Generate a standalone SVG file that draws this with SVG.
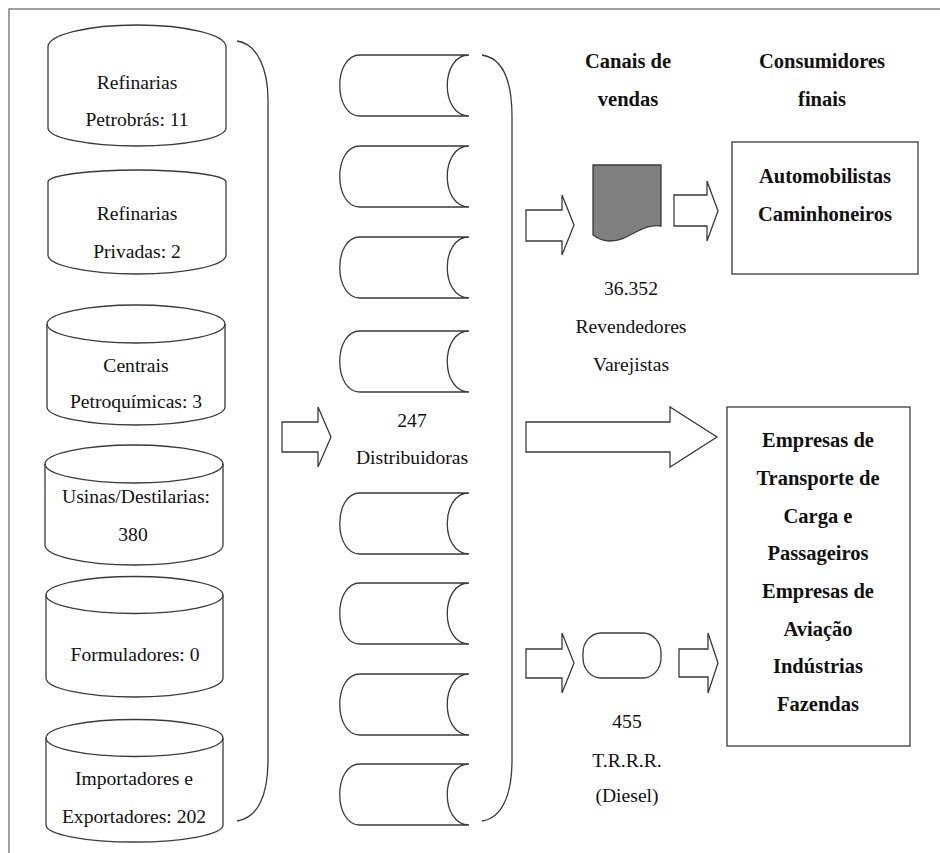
<svg xmlns="http://www.w3.org/2000/svg" width="940" height="853" viewBox="0 0 940 853">
<style>
.s{fill:#fff;stroke:#3a3a3a;stroke-width:1.3}
.o{fill:none;stroke:#3a3a3a;stroke-width:1.3}
text{font-family:'Liberation Serif','DejaVu Serif','Noto Serif',Tinos,Georgia,serif}
.t{font-size:19.6px;fill:#111;text-anchor:middle}
.b{font-size:20.5px;font-weight:bold;fill:#111;text-anchor:middle}
.f{fill:none;stroke:#808080;stroke-width:1.5}
</style>
<rect width="940" height="853" fill="#fff"/>
<path class="f" d="M9,853 V9 H940"/>
<g id="cyl1">
<path class="s" d="M48,47 A89,22 0 0 1 226,47 V128 A89,18 0 0 1 48,128 Z"/>
<text class="t" x="137" y="88.5">Refinarias</text>
<text class="t" x="137" y="126">Petrobrás: 11</text>
</g>
<g id="cyl2">
<path class="s" d="M48,182 A89,12 0 0 1 226,182 V255 A89,19 0 0 1 48,255 Z"/>
<text class="t" x="137" y="220">Refinarias</text>
<text class="t" x="137" y="258">Privadas: 2</text>
</g>
<g id="cyl3">
<path class="s" d="M47,324 A89,19 0 0 1 225,324 V407 A89,18 0 0 1 47,407 Z"/>
<path class="o" d="M47,324 A89,19 0 0 0 225,324"/>
<text class="t" x="136" y="372">Centrais</text>
<text class="t" x="136" y="408">Petroquímicas: 3</text>
</g>
<g id="cyl4">
<path class="s" d="M45,464 A89,19 0 0 1 223,464 V545 A89,20 0 0 1 45,545 Z"/>
<path class="o" d="M45,464 A89,19 0 0 0 223,464"/>
<text class="t" x="136" y="503">Usinas/Destilarias:</text>
<text class="t" x="133" y="541">380</text>
</g>
<g id="cyl5">
<path class="s" d="M46,595 A88.5,18.5 0 0 1 223,595 V678 A88.5,19 0 0 1 46,678 Z"/>
<path class="o" d="M46,595 A88.5,18.5 0 0 0 223,595"/>
<text class="t" x="135" y="661">Formuladores: 0</text>
</g>
<g id="cyl6">
<path class="s" d="M46,738 A88.5,18.5 0 0 1 223,738 V825 A88.5,17 0 0 1 46,825 Z"/>
<path class="o" d="M46,738 A88.5,18.5 0 0 0 223,738"/>
<text class="t" x="134" y="785">Importadores e</text>
<text class="t" x="134" y="823">Exportadores: 202</text>
</g>

<defs>
<path id="sd" d="M469,0 H360 C333,0 333,61 360,61 H469 C440,61 440,0 469,0 Z"/>
</defs>
<g id="distribuidoras">
<use href="#sd" class="s" y="55"/>
<use href="#sd" class="s" y="146"/>
<use href="#sd" class="s" y="237"/>
<use href="#sd" class="s" y="331"/>
<use href="#sd" class="s" y="493"/>
<use href="#sd" class="s" y="583"/>
<use href="#sd" class="s" y="674"/>
<use href="#sd" class="s" y="764"/>
<text class="t" x="412" y="427">247</text>
<text class="t" x="412" y="464">Distribuidoras</text>
</g>

<g id="headers">
<text class="b" x="628" y="68">Canais de</text>
<text class="b" x="628" y="106">vendas</text>
<text class="b" x="822" y="68">Consumidores</text>
<text class="b" x="822" y="106">finais</text>
</g>

<g id="revendedores">
<path d="M593,165 H661 V226 C640,223 630,241 610,241 C602,241 597,238 593,235 Z" fill="#808080" stroke="#3a3a3a" stroke-width="1.3"/>
<text class="t" x="631" y="295">36.352</text>
<text class="t" x="631" y="333">Revendedores</text>
<text class="t" x="631" y="371">Varejistas</text>
</g>

<g id="trrr">
<rect class="s" x="583" y="633" width="78" height="45" rx="18" ry="20"/>
<text class="t" x="627" y="728">455</text>
<text class="t" x="627" y="767">T.R.R.R.</text>
<text class="t" x="627" y="802">(Diesel)</text>
</g>

<g id="automobilistas">
<rect class="s" x="732" y="142" width="186" height="132"/>
<text class="b" x="825" y="183">Automobilistas</text>
<text class="b" x="825" y="221">Caminhoneiros</text>
</g>

<g id="empresas">
<rect class="s" x="727" y="407" width="183" height="339"/>
<text class="b" x="818" y="447">Empresas de</text>
<text class="b" x="818" y="485">Transporte de</text>
<text class="b" x="818" y="523">Carga e</text>
<text class="b" x="818" y="560">Passageiros</text>
<text class="b" x="818" y="598">Empresas de</text>
<text class="b" x="818" y="636">Aviação</text>
<text class="b" x="818" y="673">Indústrias</text>
<text class="b" x="818" y="711">Fazendas</text>
</g>

<g id="connectors">
<path class="o" d="M237,41 C258,44 268,70 268,100 V760 C268,795 258,818 237,821"/>
<path class="o" d="M482,55 C502,58 512,80 512,117 V760 C512,795 502,818 482,821"/>
<polygon class="s" points="282,422 318,422 318,407 331,437 318,467 318,452 282,452"/>
<polygon class="s" points="526,210 562,210 562,195 574,225 562,255 562,241 526,241"/>
<polygon class="s" points="674,195 707,195 707,181 718,211 707,241 707,226 674,226"/>
<polygon class="s" points="526,422 670,422 670,407 717,437 670,467 670,452 526,452"/>
<polygon class="s" points="526,649 562,649 562,633 574,663 562,693 562,678 526,678"/>
<polygon class="s" points="679,649 708,649 708,633 718,663 708,693 708,677 679,677"/>
</g>
</svg>
